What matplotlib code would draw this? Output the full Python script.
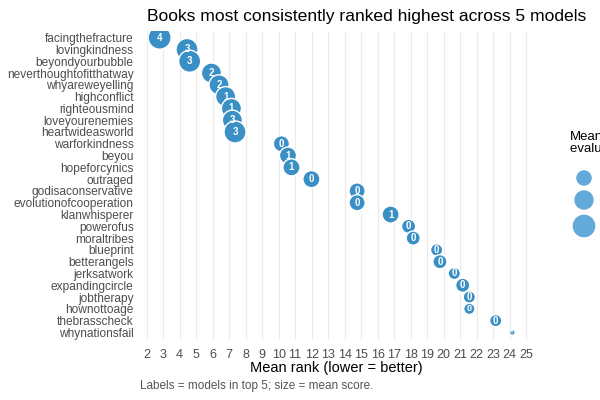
import matplotlib
matplotlib.use("Agg")
import matplotlib.pyplot as plt
import numpy as np

plt.rcParams['font.family'] = ['Liberation Sans', 'DejaVu Sans']

books = ["facingthefracture", "lovingkindness", "beyondyourbubble", "neverthoughtofitthatway",
         "whyareweyelling", "highconflict", "righteousmind", "loveyourenemies", "heartwideasworld",
         "warforkindness", "beyou", "hopeforcynics", "outraged", "godisaconservative",
         "evolutionofcooperation", "klanwhisperer", "powerofus", "moraltribes", "blueprint",
         "betterangels", "jerksatwork", "expandingcircle", "jobtherapy", "hownottoage",
         "thebrasscheck", "whynationsfail"]
mean_rank = [2.79, 4.45, 4.61, 5.93, 6.39, 6.79, 7.14, 7.20, 7.36,
             10.17, 10.57, 10.78, 11.99, 14.76, 14.76, 16.79, 17.88, 18.16, 19.58,
             19.78, 20.65, 21.16, 21.56, 21.56, 23.16, 24.17]
mean_score = [8.6, 8.28, 8.28, 7.68, 7.68, 7.68, 7.68, 7.68, 8.28,
              6.65, 6.89, 6.89, 6.89, 6.65, 6.65, 6.89, 6.22, 6.22, 5.85,
              6.22, 5.85, 6.22, 5.85, 5.69, 5.85, 5.0]
top5_count = [4, 3, 3, 2, 2, 1, 1, 3, 3, 0, 1, 1, 0, 0, 0, 1, 0, 0, 0, 0, 0, 0, 0, 0, 0, 0]
legend_scores = [6.5, 7.5, 8.5]

# size scale (area linear in score), radii in pixels
smin, smax = min(mean_score), max(mean_score)
rmin_px, rmax_px = 2.8, 11.5
def radius_px(s):
    return np.sqrt(rmin_px**2 + (rmax_px**2 - rmin_px**2) * (np.asarray(s) - smin) / (smax - smin))
def marker_area(s):
    r_pt = radius_px(s) * 72 / 100.0
    return (2 * r_pt) ** 2

fig = plt.figure(figsize=(6, 4), dpi=100)
ax = fig.add_axes([142/600, 1 - 339.5/400, (530-142)/600, (339.5-30.6)/400])

n = len(books)
ypos = np.arange(n)
x = np.array(mean_rank)
ax.scatter(x, ypos, s=marker_area(mean_score), color="#3a8fc4", edgecolor="white",
           linewidth=1.0, zorder=3)
for xi, yi, lab, sc in zip(x, ypos, top5_count, mean_score):
    fs = float(min(7.0, radius_px(sc) * 1.15))
    ax.text(xi, yi, str(lab), color="white", fontsize=fs, fontweight="bold",
            ha="center", va="center", zorder=4)

xr = x.max() - x.min()
ax.set_xlim(x.min() - 0.05 * xr, x.max() + 0.05 * xr)
ax.set_ylim(n - 1 + 0.6, -0.6)
ax.set_xticks(np.arange(2, 26))
ax.set_yticks(ypos)
ax.set_yticklabels(books)
ax.tick_params(axis='both', length=0, labelcolor="#4d4d4d")
ax.tick_params(axis='y', pad=6, labelsize=8.6)
ax.tick_params(axis='x', pad=6.5, labelsize=9)
ax.grid(axis='x', color="#ebebeb", linewidth=0.8, zorder=0)
ax.set_axisbelow(True)
for sp in ax.spines.values():
    sp.set_visible(False)
ax.set_xlabel("Mean rank (lower = better)", fontsize=10.5, color="black", labelpad=0.5)

fig.text(367/600, 1 - 16/400, "Books most consistently ranked highest across 5 models",
         fontsize=12.6, ha="center", va="center", color="black")
fig.text(140/600, 1 - 386.5/400, "Labels = models in top 5; size = mean score.",
         fontsize=8.5, ha="left", va="center", color="#555555")

# legend (cut off at the right edge, as in the reference)
fig.text(570/600, 1 - 143/400, "Mean\nevaluation score", fontsize=9.5, ha="left", va="center",
         color="black", linespacing=1.1)
lax = fig.add_axes([0.9, 1 - 245/400, 0.1, 80/400])
lax.set_xlim(0, 60)
lax.set_ylim(245, 165)
lax.axis('off')
lax.scatter([584 - 540] * 3, [178, 200, 226], s=marker_area(legend_scores), color="#63a9d9",
            edgecolor="none", clip_on=False)

fig.savefig("out.png", dpi=100)
